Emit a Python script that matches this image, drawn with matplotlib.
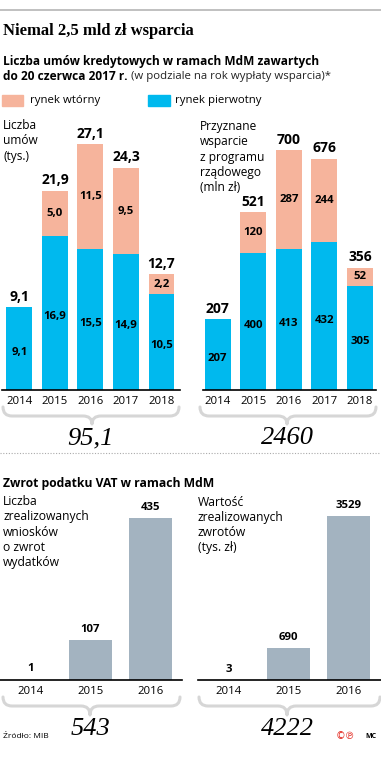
import matplotlib
matplotlib.use("Agg")
import matplotlib.pyplot as plt
from matplotlib.path import Path
from matplotlib.patches import PathPatch, Rectangle

# dane
lata = ["2014", "2015", "2016", "2017", "2018"]
umowy_pierwotny = [9.1, 16.9, 15.5, 14.9, 10.5]
umowy_wtorny = [0, 5.0, 11.5, 9.5, 2.2]
umowy_suma = ["9,1", "21,9", "27,1", "24,3", "12,7"]
wsparcie_pierwotny = [207, 400, 413, 432, 305]
wsparcie_wtorny = [0, 120, 287, 244, 52]
wsparcie_suma = ["207", "521", "700", "676", "356"]

lata_vat = ["2014", "2015", "2016"]
wnioski = [1, 107, 435]
zwroty = [3, 690, 3529]

W, H = 381, 760
BLUE = "#00b9ee"
SALMON = "#f6b49c"
GREY = "#a3b3c0"
SANS = "Open Sans"
SERIF = "Liberation Serif"

fig = plt.figure(figsize=(W / 100, H / 100), dpi=100)

ov = fig.add_axes([0, 0, 1, 1])
ov.set_xlim(0, W)
ov.set_ylim(H, 0)
ov.axis("off")


def px_axes(left, top, right, bottom):
    ax = fig.add_axes([left / W, 1 - bottom / H, (right - left) / W, (bottom - top) / H])
    ax.set_facecolor("none")
    for s in ["top", "right", "left"]:
        ax.spines[s].set_visible(False)
    ax.spines["bottom"].set_linewidth(1.2)
    ax.set_yticks([])
    ax.tick_params(axis="x", length=0, pad=4, labelsize=8.2)
    for lab in ax.get_xticklabels():
        lab.set_fontfamily(SANS)
    return ax


def brace(x0, x1, xc, yt, ym, yb, r=9):
    verts = [(x0, yt), (x0, ym), (x0 + r, ym), (xc - r, ym), (xc, ym), (xc, yb),
             (xc, ym), (xc + r, ym), (x1 - r, ym), (x1, ym), (x1, yt)]
    codes = [Path.MOVETO, Path.CURVE3, Path.CURVE3, Path.LINETO, Path.CURVE3, Path.CURVE3,
             Path.CURVE3, Path.CURVE3, Path.LINETO, Path.CURVE3, Path.CURVE3]
    ov.add_patch(PathPatch(Path(verts, codes), fill=False, edgecolor="#d6d6d6", lw=2.2,
                           capstyle="round", joinstyle="round"))


# naglowek
ov.plot([0, W], [10, 10], color="#b5b5b5", lw=1.2)
ov.text(3, 31, "Niemal 2,5 mld zł wsparcia", fontfamily=SERIF, fontweight="bold",
        fontsize=12, va="center")
ov.text(3, 62, "Liczba umów kredytowych w ramach MdM zawartych", fontfamily=SANS,
        fontweight="bold", fontsize=8.6, va="center")
t1 = ov.text(3, 76, "do 20 czerwca 2017 r.", fontfamily=SANS, fontweight="bold",
             fontsize=8.6, va="center")
ov.annotate(" (w podziale na rok wypłaty wsparcia)*", xy=(1, 0.5), xycoords=t1,
            fontfamily=SANS, fontsize=8.2, va="center", color="#222222")

ov.add_patch(Rectangle((2, 95), 21, 11, color=SALMON))
ov.text(30, 100, "rynek wtórny", fontfamily=SANS, fontsize=8.2, va="center")
ov.add_patch(Rectangle((148, 95), 22, 11, color=BLUE))
ov.text(175, 100, "rynek pierwotny", fontfamily=SANS, fontsize=8.2, va="center")

# wykres 1 - liczba umow
ax1 = px_axes(2, 117, 180, 390)
x = range(len(lata))
ax1.bar(x, umowy_pierwotny, width=0.73, color=BLUE)
ax1.bar(x, umowy_wtorny, width=0.73, bottom=umowy_pierwotny, color=SALMON)
ax1.set_xlim(-0.49, 4.52)
ax1.set_ylim(0, 30)
ax1.set_xticks(list(x), lata)
for i in x:
    p, s = umowy_pierwotny[i], umowy_wtorny[i]
    ax1.text(i, p / 2 - 0.4, f"{p:.1f}".replace(".", ","), ha="center", va="center",
             fontsize=8.2, fontweight="bold", fontfamily=SANS)
    if s:
        ax1.text(i, p + s / 2, f"{s:.1f}".replace(".", ","), ha="center", va="center",
                 fontsize=8.2, fontweight="bold", fontfamily=SANS)
    ax1.text(i, p + s + 0.4, umowy_suma[i], ha="center", va="bottom",
             fontsize=10, fontweight="bold", fontfamily=SANS)
ov.text(3, 141, "Liczba\numów\n(tys.)", fontfamily=SANS, fontsize=8.6, va="center",
        linespacing=1.22)

# wykres 2 - wsparcie
ax2 = px_axes(203, 123, 376, 390)
ax2.bar(x, wsparcie_pierwotny, width=0.73, color=BLUE)
ax2.bar(x, wsparcie_wtorny, width=0.73, bottom=wsparcie_pierwotny, color=SALMON)
ax2.set_xlim(-0.41, 4.45)
ax2.set_ylim(0, 780)
ax2.set_xticks(list(x), lata)
for i in x:
    p, s = wsparcie_pierwotny[i], wsparcie_wtorny[i]
    ax2.text(i, p / 2 - 12, str(p), ha="center", va="center",
             fontsize=8.2, fontweight="bold", fontfamily=SANS)
    if s:
        ax2.text(i, p + s / 2, str(s), ha="center", va="center",
                 fontsize=8.2, fontweight="bold", fontfamily=SANS)
    ax2.text(i, p + s + 10, wsparcie_suma[i], ha="center", va="bottom",
             fontsize=10, fontweight="bold", fontfamily=SANS)
ov.text(200, 157, "Przyznane\nwsparcie\nz programu\nrządowego\n(mln zł)", fontfamily=SANS,
        fontsize=8.6, va="center", linespacing=1.22)

brace(3, 179, 92, 407, 416, 424)
brace(200, 376, 287, 407, 416, 424)
ov.text(90, 438, "95,1", fontfamily=SERIF, fontstyle="italic", fontsize=19,
        ha="center", va="center")
ov.text(287, 438, "2460", fontfamily=SERIF, fontstyle="italic", fontsize=19,
        ha="center", va="center")

ov.plot([0, W], [453, 453], color="#aaaaaa", lw=0.8, ls=(0, (1, 1.5)))

# sekcja VAT
ov.text(3, 483, "Zwrot podatku VAT w ramach MdM", fontfamily=SANS, fontweight="bold",
        fontsize=8.7, va="center")

xv = range(len(lata_vat))
ax3 = px_axes(0, 494, 182, 680)
ax3.bar(xv, wnioski, width=0.72, color=GREY)
ax3.set_xlim(-0.508, 2.525)
ax3.set_ylim(0, 500)
ax3.set_xticks(list(xv), lata_vat)
for i in xv:
    ax3.text(i, wnioski[i] + 14, str(wnioski[i]), ha="center", va="bottom",
             fontsize=8.2, fontweight="bold", fontfamily=SANS)
ov.text(3, 532, "Liczba\nzrealizowanych\nwniosków\no zwrot\nwydatków", fontfamily=SANS,
        fontsize=8.7, va="center", linespacing=1.22)

ax4 = px_axes(198, 494, 381, 680)
ax4.bar(xv, zwroty, width=0.72, color=GREY)
ax4.set_xlim(-0.508, 2.54)
ax4.set_ylim(0, 4000)
ax4.set_xticks(list(xv), lata_vat)
for i in xv:
    ax4.text(i, zwroty[i] + 110, str(zwroty[i]), ha="center", va="bottom",
             fontsize=8.2, fontweight="bold", fontfamily=SANS)
ov.text(198, 525, "Wartość\nzrealizowanych\nzwrotów\n(tys. zł)", fontfamily=SANS,
        fontsize=8.7, va="center", linespacing=1.22)

brace(3, 180, 90, 697, 706, 715)
brace(199, 380, 287, 697, 706, 715)
ov.text(90, 729, "543", fontfamily=SERIF, fontstyle="italic", fontsize=19,
        ha="center", va="center")
ov.text(287, 729, "4222", fontfamily=SERIF, fontstyle="italic", fontsize=19,
        ha="center", va="center")

# stopka
ov.text(3, 737, "Źródło: MIB", fontfamily=SANS, fontsize=6, va="center")
ov.text(345, 736, "©℗", fontfamily="DejaVu Sans", fontsize=7, color="#e2231a",
        ha="center", va="center")
ov.text(371, 737, "MC", fontfamily=SANS, fontsize=5, fontweight="bold", ha="center",
        va="center")

fig.savefig("out.png", dpi=100)
